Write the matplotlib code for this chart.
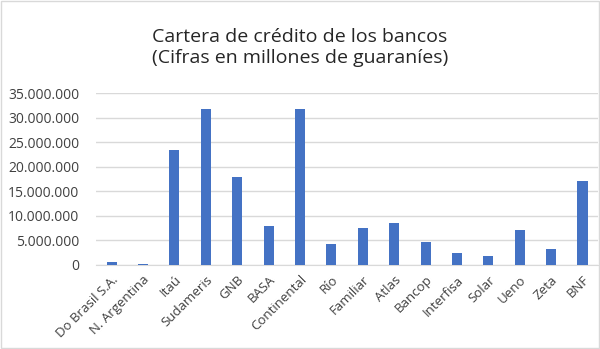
import matplotlib
matplotlib.use("Agg")
import matplotlib.pyplot as plt
from matplotlib.ticker import FuncFormatter
from matplotlib.patches import Rectangle

banks = ["Do Brasil S.A.", "N. Argentina", "Itaú", "Sudameris", "GNB", "BASA",
         "Continental", "Río", "Familiar", "Atlas", "Bancop", "Interfisa",
         "Solar", "Ueno", "Zeta", "BNF"]
cartera = [600000, 200000, 23400000, 31700000, 18000000, 7900000,
           31700000, 4300000, 7600000, 8500000, 4600000, 2400000,
           1900000, 7100000, 3200000, 17000000]
yticks = [0, 5000000, 10000000, 15000000, 20000000, 25000000, 30000000, 35000000]

plt.rcParams['font.family'] = ['Open Sans', 'DejaVu Sans']

fig = plt.figure(figsize=(6.0, 3.49), dpi=100)
fig.patches.append(Rectangle((0.002, 0.002), 0.996, 0.996, transform=fig.transFigure,
                             fill=False, edgecolor="#d9d9d9", linewidth=1))
ax = fig.add_axes([0.16, 0.241, 0.837, 0.492])

x = list(range(len(banks)))
ax.bar(x, cartera, width=0.32, color="#4472C4", zorder=3)
ax.set_xlim(-0.5, len(banks) - 0.5)
ax.set_ylim(0, 35000000)
ax.set_yticks(yticks)
ax.yaxis.set_major_formatter(FuncFormatter(lambda v, p: f"{int(v):,}".replace(",", ".")))
ax.grid(axis="y", color="#d9d9d9", linewidth=1, zorder=0)
for s in ["top", "right", "left"]:
    ax.spines[s].set_visible(False)
ax.spines["bottom"].set_color("#d9d9d9")
ax.tick_params(axis="both", length=0, labelsize=10, colors="#404040")
ax.tick_params(axis="y", pad=12)
ax.tick_params(axis="x", pad=6)
ax.set_xticks(x)
ax.set_xticklabels(banks, rotation=45, ha="right", rotation_mode="anchor", fontsize=9.5)

fig.text(0.5, 0.864, "Cartera de crédito de los bancos\n(Cifras en millones de guaraníes)",
         ha="center", va="center", fontsize=14, color="#262626", linespacing=1.25)

fig.savefig("out.png", dpi=100)
